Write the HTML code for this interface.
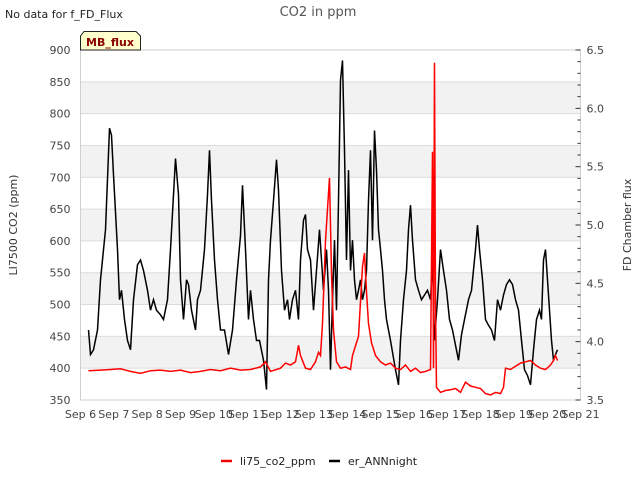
<!DOCTYPE html>
<html><head><meta charset="utf-8"><style>
body{margin:0;background:#fff;font-family:"Liberation Sans","DejaVu Sans",sans-serif}
svg text{font-family:"DejaVu Sans","Liberation Sans",sans-serif}
</style></head><body>
<svg id="chart" width="640" height="480" xmlns="http://www.w3.org/2000/svg">
<g id="bands"></g>
<g id="grid"></g>
<g id="axes"></g>
<g id="series"></g>
<text x="5" y="18" font-size="11" fill="#222">No data for f_FD_Flux</text>
<text x="318" y="16" font-size="13" fill="#555" text-anchor="middle">CO2 in ppm</text>
<g>
<path d="M80.5,50 L80.5,36 L84,31.5 L136,31.5 L140.5,36 L140.5,50 Z" fill="#ffffcc" stroke="#222" stroke-width="1"/>
<text x="110" y="46" font-size="11" font-weight="bold" fill="#8b0000" text-anchor="middle">MB_flux</text>
</g>
<text transform="translate(17,225) rotate(-90)" font-size="11" fill="#333" text-anchor="middle">LI7500 CO2 (ppm)</text>
<text transform="translate(631,225) rotate(-90)" font-size="11" fill="#333" text-anchor="middle">FD Chamber flux</text>
<g>
<line x1="221" y1="461" x2="232" y2="461" stroke="#e00" stroke-width="2.5"/>
<text x="240" y="465" font-size="11" fill="#222">li75_co2_ppm</text>
<line x1="329" y1="461" x2="340" y2="461" stroke="#000" stroke-width="2.5"/>
<text x="348" y="465" font-size="11" fill="#222">er_ANNnight</text>
</g>
</svg>
<script>
const xTickLabels=["Sep 6","Sep 7","Sep 8","Sep 9","Sep 10","Sep 11","Sep 12","Sep 13","Sep 14","Sep 15","Sep 16","Sep 17","Sep 18","Sep 19","Sep 20","Sep 21"];
const leftTicks=[350,400,450,500,550,600,650,700,750,800,850,900];
const rightTicks=[3.5,4.0,4.5,5.0,5.5,6.0,6.5];
const redDays=[0.24,0.60,0.90,1.20,1.50,1.80,2.10,2.40,2.70,3.00,3.30,3.60,3.90,4.20,4.50,4.80,5.10,5.40,5.55,5.70,6.00,6.15,6.30,6.45,6.54,6.60,6.75,6.90,7.05,7.14,7.20,7.26,7.35,7.41,7.47,7.53,7.59,7.68,7.80,7.95,8.10,8.16,8.25,8.34,8.46,8.52,8.58,8.64,8.73,8.85,9.00,9.15,9.30,9.45,9.60,9.75,9.90,10.05,10.20,10.35,10.50,10.56,10.59,10.62,10.65,10.68,10.80,10.95,11.10,11.25,11.40,11.55,11.70,11.85,12.00,12.15,12.30,12.45,12.60,12.69,12.75,12.90,13.05,13.20,13.35,13.50,13.65,13.80,13.95,14.10,14.19,14.25,14.31];
const redPpm=[396,397,398,399,395,392,396,397,395,397,393,395,398,396,400,397,398,402,410,395,400,408,405,410,436,420,400,398,410,425,420,470,600,650,699,550,460,410,400,402,398,420,435,450,560,581,520,470,440,420,410,405,408,400,398,405,395,400,393,395,398,740,400,880,500,370,362,365,366,368,362,378,372,370,368,360,358,362,360,370,400,398,403,408,410,412,405,400,398,405,412,420,412];
const blackDays=[0.24,0.30,0.39,0.51,0.60,0.75,0.87,0.93,0.99,1.11,1.17,1.23,1.32,1.41,1.50,1.59,1.71,1.80,1.89,2.01,2.10,2.19,2.28,2.40,2.49,2.61,2.70,2.79,2.85,2.94,3.00,3.09,3.18,3.24,3.33,3.45,3.51,3.60,3.72,3.81,3.87,3.93,4.02,4.11,4.20,4.32,4.44,4.56,4.68,4.80,4.86,4.95,5.04,5.10,5.19,5.28,5.37,5.49,5.58,5.64,5.70,5.79,5.88,5.94,6.03,6.12,6.21,6.27,6.36,6.45,6.54,6.60,6.69,6.75,6.81,6.90,6.99,7.08,7.17,7.23,7.29,7.38,7.44,7.50,7.56,7.62,7.68,7.74,7.80,7.86,7.92,7.98,8.04,8.10,8.16,8.22,8.28,8.34,8.40,8.46,8.52,8.58,8.64,8.70,8.76,8.82,8.88,8.94,9.00,9.06,9.12,9.18,9.30,9.45,9.54,9.60,9.69,9.78,9.84,9.90,9.96,10.05,10.14,10.23,10.32,10.41,10.50,10.56,10.62,10.71,10.80,10.89,10.98,11.07,11.16,11.25,11.34,11.43,11.52,11.64,11.73,11.85,11.91,11.97,12.06,12.15,12.24,12.33,12.42,12.51,12.60,12.69,12.78,12.87,12.96,13.05,13.14,13.23,13.32,13.41,13.50,13.59,13.68,13.77,13.83,13.89,13.95,14.01,14.07,14.13,14.19,14.25,14.31];
const blackFlux=[4.10,3.89,3.93,4.10,4.53,4.96,5.83,5.77,5.43,4.79,4.36,4.44,4.19,4.01,3.93,4.36,4.66,4.70,4.61,4.44,4.27,4.36,4.27,4.23,4.19,4.36,4.79,5.26,5.57,5.26,4.53,4.19,4.53,4.49,4.27,4.10,4.36,4.44,4.79,5.26,5.64,5.21,4.70,4.36,4.10,4.10,3.89,4.10,4.53,4.91,5.34,4.79,4.19,4.44,4.19,4.01,4.01,3.84,3.59,4.53,4.87,5.21,5.56,5.30,4.61,4.27,4.36,4.19,4.36,4.44,4.19,4.70,5.04,5.09,4.79,4.70,4.27,4.61,4.96,4.70,4.44,4.79,4.44,3.76,4.36,4.87,4.27,5.21,6.24,6.41,5.64,4.70,5.47,4.61,4.87,4.53,4.36,4.44,4.53,4.36,4.44,4.61,5.21,5.64,4.87,5.81,5.47,4.96,4.79,4.61,4.36,4.19,4.01,3.76,3.63,4.01,4.36,4.61,4.96,5.17,4.87,4.53,4.44,4.36,4.40,4.44,4.36,4.70,4.01,4.36,4.79,4.61,4.44,4.19,4.10,3.97,3.84,4.06,4.19,4.36,4.44,4.79,5.00,4.79,4.53,4.19,4.14,4.10,4.01,4.36,4.27,4.40,4.49,4.53,4.49,4.36,4.27,4.01,3.76,3.71,3.63,3.93,4.19,4.27,4.19,4.70,4.79,4.53,4.27,4.01,3.84,3.89,3.93];

const X0=80.5,X1=580.5,Y0=50,Y1=400;
const xs=d=>X0+(X1-X0)*d/15;
const yL=v=>Y1-(v-350)/(900-350)*(Y1-Y0);
const yR=v=>Y1-(v-3.5)/(6.5-3.5)*(Y1-Y0);
const NS="http://www.w3.org/2000/svg";
function mk(tag,parent){const e=document.createElementNS(NS,tag);document.getElementById(parent).appendChild(e);return e;}

for(let i=0;i<leftTicks.length-1;i++){
  if(i%2===1){
    const r=mk('rect','bands');
    
    
    r.setAttribute('x',X0);r.setAttribute('y',yL(leftTicks[i+1]));
    r.setAttribute('width',X1-X0);r.setAttribute('height',yL(leftTicks[i])-yL(leftTicks[i+1]));
    r.setAttribute('fill','#f2f2f2');
  }
}
leftTicks.forEach(v=>{
  const l=mk('line','grid');
  
  
  l.setAttribute('x1',X0);l.setAttribute('x2',X1);l.setAttribute('y1',yL(v));l.setAttribute('y2',yL(v));
  l.setAttribute('stroke','#dcdcdc');l.setAttribute('stroke-width','1');
  const t=mk('text','axes');
  
  
  t.setAttribute('x',X0-10);t.setAttribute('y',yL(v)+4);t.setAttribute('text-anchor','end');
  t.setAttribute('font-size','11');t.setAttribute('fill','#444');t.textContent=v;
});
const frame=mk('rect','axes');


frame.setAttribute('x',X0);frame.setAttribute('y',Y0);frame.setAttribute('width',X1-X0);frame.setAttribute('height',Y1-Y0);
frame.setAttribute('fill','none');frame.setAttribute('stroke','#d0d0d0');
xTickLabels.forEach((s,i)=>{
  const t=mk('text','axes');
  
  
  t.setAttribute('x',xs(i));t.setAttribute('y',Y1+18);t.setAttribute('text-anchor','middle');
  t.setAttribute('font-size','11');t.setAttribute('fill','#444');t.textContent=s;
});
for(let k=0;k<=30;k++){
  const v=3.5+k*0.1;
  const l=mk('line','axes');
  
  
  l.setAttribute('x1',k%5===0?X1-5:X1-3);l.setAttribute('x2',X1);l.setAttribute('y1',yR(v));l.setAttribute('y2',yR(v));
  l.setAttribute('stroke','#333');
}
rightTicks.forEach(v=>{
  const t=mk('text','axes');
  
  
  t.setAttribute('x',X1+6);t.setAttribute('y',yR(v)+4);
  t.setAttribute('font-size','11');t.setAttribute('fill','#444');t.textContent=v.toFixed(1);
});
const pb=mk('polyline','series');


pb.setAttribute('points',blackDays.map((d,i)=>xs(d).toFixed(1)+','+yR(blackFlux[i]).toFixed(1)).join(' '));
pb.setAttribute('fill','none');pb.setAttribute('stroke','#000');pb.setAttribute('stroke-width','1.5');
const pr=mk('polyline','series');


pr.setAttribute('points',redDays.map((d,i)=>xs(d).toFixed(1)+','+yL(redPpm[i]).toFixed(1)).join(' '));
pr.setAttribute('fill','none');pr.setAttribute('stroke','#f00');pr.setAttribute('stroke-width','1.5');
</script>
</body></html>
